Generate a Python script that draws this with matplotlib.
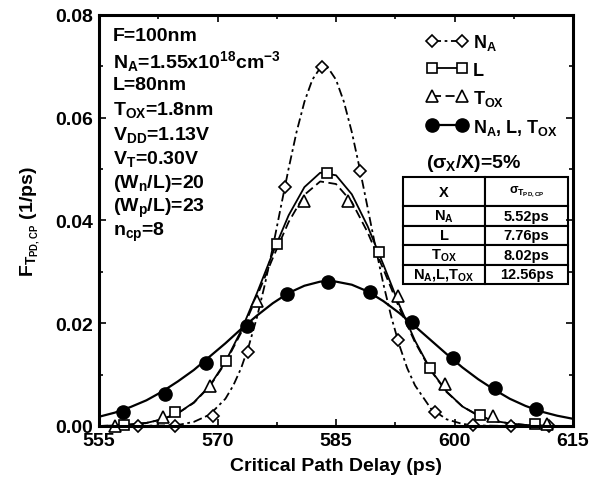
import matplotlib
matplotlib.use("Agg")
import matplotlib.pyplot as plt
from matplotlib.lines import Line2D
from matplotlib.ticker import MultipleLocator, FormatStrFormatter

plt.rcParams['font.family'] = ['Liberation Sans', 'DejaVu Sans']
plt.rcParams['font.weight'] = 'bold'
plt.rcParams['mathtext.fontset'] = 'custom'
plt.rcParams['mathtext.rm'] = 'Liberation Sans:bold'
plt.rcParams['mathtext.it'] = 'Liberation Sans:bold'
plt.rcParams['mathtext.bf'] = 'Liberation Sans:bold'

# fitted curves
na_x = [555, 559, 563, 565, 567, 569, 571, 572, 573, 574, 575, 576, 577, 578, 579, 580,
        581, 582, 583, 584, 585, 586, 587, 588, 589, 590, 591, 592, 593, 594, 595, 597,
        599, 601, 603, 607, 611, 615]
na_y = [0.0000, 0.0000, 0.0001, 0.0002, 0.0008, 0.0022, 0.0053, 0.0079, 0.0113, 0.0158,
        0.0212, 0.0276, 0.0348, 0.0425, 0.0501, 0.0572, 0.0631, 0.0674, 0.0697, 0.0697,
        0.0674, 0.0631, 0.0572, 0.0501, 0.0425, 0.0348, 0.0276, 0.0212, 0.0158, 0.0113,
        0.0079, 0.0034, 0.0013, 0.0004, 0.0001, 0.0000, 0.0000, 0.0000]

grid_x = [555, 557, 559, 561, 563, 565, 567, 569, 571, 573, 575, 577, 579, 581, 583, 585,
          587, 589, 591, 593, 595, 597, 599, 601, 603, 605, 607, 609, 611, 613, 615]
l_y = [0.0000, 0.0001, 0.0003, 0.0006, 0.0013, 0.0025, 0.0046, 0.0078, 0.0125, 0.0186,
       0.0259, 0.0337, 0.0410, 0.0465, 0.0493, 0.0488, 0.0451, 0.0389, 0.0314, 0.0236,
       0.0166, 0.0109, 0.0067, 0.0038, 0.0020, 0.0010, 0.0005, 0.0002, 0.0001, 0.0000, 0.0000]
tox_y = [0.0000, 0.0001, 0.0003, 0.0006, 0.0013, 0.0025, 0.0045, 0.0077, 0.0123, 0.0182,
         0.0253, 0.0327, 0.0397, 0.0450, 0.0476, 0.0471, 0.0436, 0.0377, 0.0305, 0.0230,
         0.0163, 0.0108, 0.0066, 0.0038, 0.0021, 0.0010, 0.0005, 0.0002, 0.0001, 0.0000, 0.0000]
all_y = [0.0018, 0.0026, 0.0037, 0.0050, 0.0067, 0.0087, 0.0109, 0.0135, 0.0161, 0.0189,
         0.0215, 0.0239, 0.0259, 0.0273, 0.0281, 0.0281, 0.0275, 0.0262, 0.0243, 0.0220,
         0.0194, 0.0167, 0.0140, 0.0114, 0.0091, 0.0071, 0.0053, 0.0039, 0.0028, 0.0020, 0.0014]

# simulated points (markers)
na_px = [559.9, 564.6, 569.4, 573.9, 578.5, 583.2, 588.0, 592.8, 597.5, 602.4, 607.2, 611.9]
na_py = [0.0000, 0.0000, 0.0020, 0.0145, 0.0465, 0.0698, 0.0497, 0.0168, 0.0027, 0.0001, 0.0000, 0.0000]
l_px = [558.1, 564.6, 571.1, 577.5, 583.8, 590.4, 596.9, 603.2, 610.2]
l_py = [0.0001, 0.0027, 0.0127, 0.0354, 0.0492, 0.0339, 0.0112, 0.0021, 0.0003]
tox_px = [557.0, 563.1, 569.1, 575.0, 580.9, 586.5, 592.9, 598.8, 604.9, 611.7]
tox_py = [0.0000, 0.0017, 0.0077, 0.0244, 0.0438, 0.0438, 0.0253, 0.0082, 0.0020, 0.0003]
all_px = [558.0, 563.3, 568.5, 573.7, 578.8, 584.0, 589.3, 594.6, 599.8, 605.1, 610.3]
all_py = [0.0028, 0.0063, 0.0123, 0.0195, 0.0257, 0.0280, 0.0260, 0.0202, 0.0132, 0.0073, 0.0034]

params = ["F=100nm",
          r"N$_\mathrm{A}$=1.55x10$^\mathrm{18}$cm$^\mathrm{-3}$",
          "L=80nm",
          r"T$_\mathrm{OX}$=1.8nm",
          r"V$_\mathrm{DD}$=1.13V",
          r"V$_\mathrm{T}$=0.30V",
          r"(W$_\mathrm{n}$/L)=20",
          r"(W$_\mathrm{p}$/L)=23",
          r"n$_\mathrm{cp}$=8"]

tab_x = [r"N$_\mathrm{A}$", "L", r"T$_\mathrm{OX}$", r"N$_\mathrm{A}$,L,T$_\mathrm{OX}$"]
tab_sigma = ["5.52ps", "7.76ps", "8.02ps", "12.56ps"]

na_ls = (0, (5, 2, 1.5, 2))
tox_ls = (0, (5, 2.5))

fig = plt.figure(figsize=(5.98, 4.89), dpi=100)
ax = fig.add_axes([0.1656, 0.1268, 0.7926, 0.8405])

ax.plot(na_x, na_y, color='k', lw=1.3, ls=na_ls)
ax.plot(grid_x, l_y, color='k', lw=1.3, ls='-')
ax.plot(grid_x, tox_y, color='k', lw=1.3, ls=tox_ls)
ax.plot(grid_x, all_y, color='k', lw=1.6, ls='-')

ax.plot(na_px, na_py, 'D', ms=6.5, mfc='white', mec='k', mew=1.2, ls='none', clip_on=False)
ax.plot(l_px, l_py, 's', ms=7.5, mfc='white', mec='k', mew=1.2, ls='none', clip_on=False)
ax.plot(tox_px, tox_py, '^', ms=8.5, mfc='white', mec='k', mew=1.2, ls='none', clip_on=False)
ax.plot(all_px, all_py, 'o', ms=9.5, mfc='k', mec='k', ls='none', clip_on=False)

ax.set_xlim(555, 615)
ax.set_ylim(0, 0.08)
ax.xaxis.set_major_locator(MultipleLocator(15))
ax.xaxis.set_minor_locator(MultipleLocator(7.5))
ax.yaxis.set_major_locator(MultipleLocator(0.02))
ax.yaxis.set_minor_locator(MultipleLocator(0.01))
ax.yaxis.set_major_formatter(FormatStrFormatter('%.2f'))
ax.tick_params(which='both', direction='in', top=True, right=True, width=1.2)
ax.tick_params(which='major', length=5, labelsize=14, pad=4)
ax.tick_params(which='minor', length=3)
for s in ax.spines.values():
    s.set_linewidth(2.2)

ax.set_xlabel("Critical Path Delay (ps)", fontsize=14, fontweight='bold', labelpad=6)
ax.set_ylabel(r"F$_{\mathrm{T}_{\mathrm{PD,CP}}}$ (1/ps)", fontsize=14, fontweight='bold', labelpad=10)

# parameter block
for i, t in enumerate(params):
    ax.text(0.03, 0.95 - i * 0.0597, t, transform=ax.transAxes, fontsize=14,
            fontweight='bold', va='center', ha='left')

handles = [
    Line2D([], [], color='k', lw=1.3, ls=na_ls, marker='D', ms=6.5, mfc='white', mec='k', mew=1.2),
    Line2D([], [], color='k', lw=1.3, ls='-', marker='s', ms=7.5, mfc='white', mec='k', mew=1.2),
    Line2D([], [], color='k', lw=1.3, ls=tox_ls, marker='^', ms=8.5, mfc='white', mec='k', mew=1.2),
    Line2D([], [], color='k', lw=1.6, ls='-', marker='o', ms=9.5, mfc='k', mec='k'),
]
labels = [r"N$_\mathrm{A}$", "L", r"T$_\mathrm{OX}$", r"N$_\mathrm{A}$, L, T$_\mathrm{OX}$"]
ax.legend(handles, labels, loc='upper left', bbox_to_anchor=(0.675, 0.975), frameon=False,
          numpoints=2, handlelength=2.3, handletextpad=0.3, labelspacing=0.5,
          borderaxespad=0, prop={'size': 13, 'weight': 'bold'})

ax.text(0.69, 0.64, r"($\sigma_\mathrm{X}$/X)=5%", transform=ax.transAxes, fontsize=14,
        fontweight='bold', va='center', ha='left')

cells = [[x, s] for x, s in zip(tab_x, tab_sigma)]
tb = ax.table(cellText=cells, colLabels=["X", r"$\sigma_{\mathrm{T}_{\mathrm{PD,CP}}}$"],
              bbox=[0.641, 0.345, 0.348, 0.261], cellLoc='center')
tb.auto_set_font_size(False)
for (r, c), cell in tb.get_celld().items():
    cell.set_linewidth(1.5)
    cell.set_edgecolor('k')
    cell.get_text().set_fontsize(10.5)
    cell.get_text().set_fontweight('bold')
    cell.set_height(1.5 if r == 0 else 1.0)
tb[0, 1].get_text().set_fontsize(9)

fig.savefig("out.png", dpi=100)
